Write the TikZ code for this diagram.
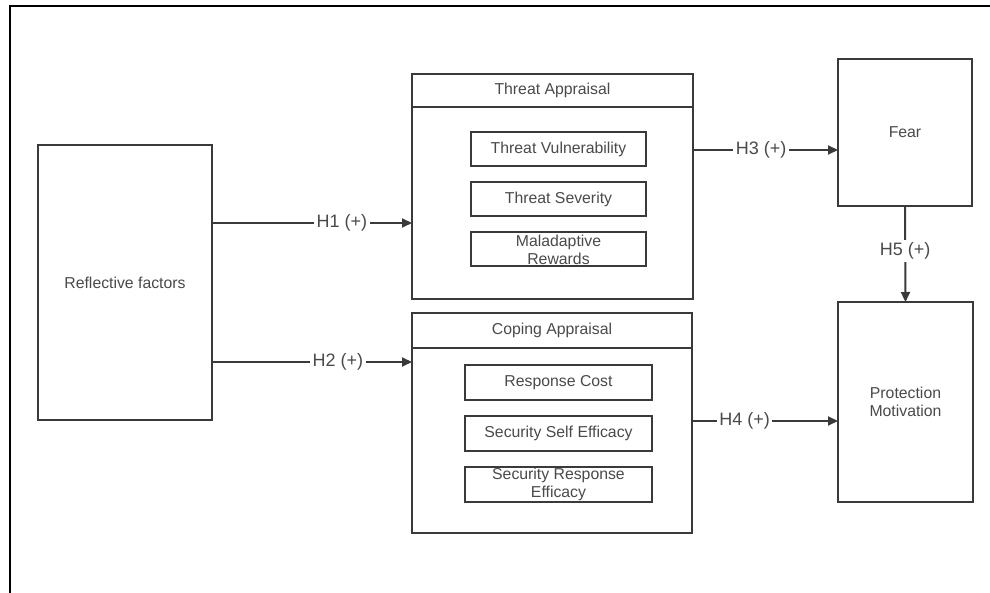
\documentclass[tikz,border=0pt]{standalone}
\usepackage{fontspec}
\setmainfont{Liberation Sans}
\usepackage{xcolor}
\usepackage{tikz}
\usetikzlibrary{calc,arrows.meta}
\definecolor{edge}{HTML}{3A3A3A}
\definecolor{ink}{HTML}{4A4A4A}
\tikzset{
  box/.style={draw=edge, line width=2pt, fill=white, text=ink, align=center,
    inner sep=0pt, outer sep=0pt, font=\fontsize{15.8}{18}\selectfont},
  arr/.style={draw=edge, line width=2pt, -{Triangle[length=10pt,width=9pt]}},
  lbl/.style={fill=white, text=ink, inner sep=2.5pt, font=\fontsize{18}{20}\selectfont},
  frame/.style={draw=black, line width=1.4pt}
}

\begin{document}
\begin{tikzpicture}[x=1pt,y=-1pt]
  \useasboundingbox (0,0) rectangle (990,593);
  \draw[frame] (990,6) -- (10,6) -- (10,593);

  \node[box, minimum width=174pt, minimum height=275pt] (rf) at (125,282.5) {Reflective factors};

  % threat appraisal
  \node[box, minimum width=281pt, minimum height=33pt] (ta) at (552.5,90.5) {Threat Appraisal};
  \node[box, minimum width=281pt, minimum height=192pt, anchor=north] (tab) at (ta.south) {};
  \node[box, minimum width=175pt, minimum height=34pt] (tv) at (558.5,149) {Threat Vulnerability};
  \node[box, minimum width=175pt, minimum height=34pt] (ts) at (558.5,199) {Threat Severity};
  \node[box, minimum width=175pt, minimum height=34pt] (mr) at (558.5,249.5) {Maladaptive\\Rewards};

  % coping appraisal
  \node[box, minimum width=280pt, minimum height=35pt] (ca) at (552,330.5) {Coping Appraisal};
  \node[box, minimum width=280pt, minimum height=185pt, anchor=north] (cab) at (ca.south) {};
  \node[box, minimum width=187pt, minimum height=35pt] (rc) at (558.5,382.5) {Response Cost};
  \node[box, minimum width=187pt, minimum height=35pt] (sse) at (558.5,433.5) {Security Self Efficacy};
  \node[box, minimum width=187pt, minimum height=35pt] (sre) at (558.5,484.5) {Security Response\\Efficacy};

  \node[box, minimum width=134pt, minimum height=147pt] (fear) at (905,132.5) {Fear};
  \node[box, minimum width=135pt, minimum height=200pt] (pm) at (905.5,402) {Protection\\Motivation};

  \coordinate (h1) at (rf.east |- 0,223);
  \coordinate (h2) at (rf.east |- 0,362);
  \coordinate (h3) at (tab.east |- 0,150);
  \coordinate (h4) at (cab.east |- 0,421);

  \draw[arr] (h1) -- (h1 -| tab.west) node[lbl, pos=0.65] {H1 (+)};
  \draw[arr] (h2) -- (h2 -| cab.west) node[lbl, pos=0.63] {H2 (+)};
  \draw[arr] (h3) -- (h3 -| fear.west) node[lbl, pos=0.47] {H3 (+)};
  \draw[arr] (h4) -- (h4 -| pm.west) node[lbl, pos=0.36] {H4 (+)};
  \draw[arr] (fear.south) -- (pm.north) node[lbl, pos=0.47] {H5 (+)};
\end{tikzpicture}
\end{document}
